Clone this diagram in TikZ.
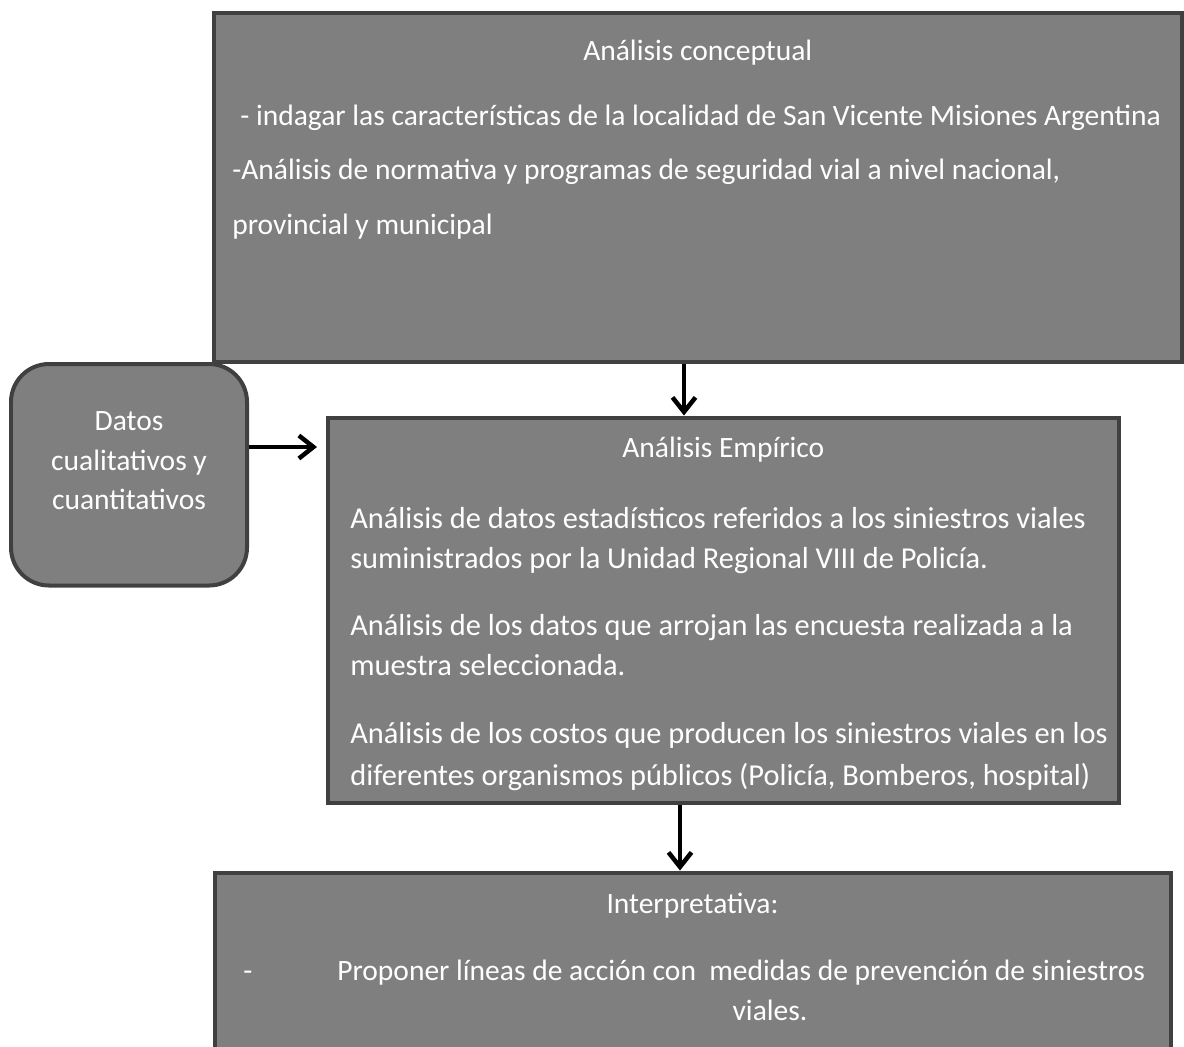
\documentclass[tikz,border=0pt]{standalone}
\usepackage{fontspec}
\setmainfont{Carlito}
\usetikzlibrary{arrows.meta}

\definecolor{relleno}{HTML}{7F7F7F}
\definecolor{borde}{HTML}{404040}

\tikzset{
  caja/.style={draw=borde, fill=relleno, line width=0.08cm, inner sep=0pt},
  texto/.style={text=white, inner sep=0pt, anchor=base west,
    font=\fontsize{16.8pt}{20pt}\selectfont},
  textogrande/.style={texto, font=\fontsize{17.3pt}{21pt}\selectfont},
  titulo/.style={texto, anchor=base},
  flecha/.style={line width=0.9mm, -{Straight Barb[length=2.9mm, width=4.6mm]}}
}

\begin{document}
\begin{tikzpicture}[x=0.02cm, y=-0.02cm]
    \useasboundingbox (0,0) rectangle (1184,1046);
    \clip (0,0) rectangle (1184,1046);

    % Cajas
    \node[caja, minimum width=968.5*0.02cm, minimum height=349*0.02cm] (conceptual) at (697.75,187) {};
    \node[caja, rounded corners=0.76cm, minimum width=236*0.02cm, minimum height=221.5*0.02cm] (datos) at (129,474.75) {};
    \node[caja, minimum width=791.5*0.02cm, minimum height=385*0.02cm] (empirico) at (723.25,610) {};
    \node[caja, minimum width=956*0.02cm, minimum height=187.5*0.02cm] (interpretativa) at (692.5,966.25) {};

    % Análisis conceptual
    \node[titulo] (conceptualT) at (697.75,60) {Análisis conceptual};
    \node[texto] (conceptualA) at (240,125) {- indagar las características de la localidad de San Vicente Misiones Argentina};
    \node[texto] (conceptualB) at (232,179) {-Análisis de normativa y programas de seguridad vial a nivel nacional,};
    \node[texto] (conceptualC) at (232,234) {provincial y municipal};

    % Datos
    \node[titulo] (datosA) at (129,430) {Datos};
    \node[titulo] (datosB) at (129,470) {cualitativos y};
    \node[titulo] (datosC) at (129,509) {cuantitativos};

    % Análisis Empírico
    \node[titulo] (empiricoT) at (723.25,457) {Análisis Empírico};
    \node[textogrande] (empiricoA) at (350,528) {Análisis de datos estadísticos referidos a los siniestros viales};
    \node[textogrande] (empiricoB) at (350,568) {suministrados por la Unidad Regional VIII de Policía.};
    \node[textogrande] (empiricoC) at (350,635) {Análisis de los datos que arrojan las encuesta realizada a la};
    \node[textogrande] (empiricoD) at (350,675) {muestra seleccionada.};
    \node[textogrande] (empiricoE) at (350,743) {Análisis de los costos que producen los siniestros viales en los};
    \node[textogrande] (empiricoF) at (350,785) {diferentes organismos públicos (Policía, Bomberos, hospital)};

    % Interpretativa
    \node[titulo] (interpretativaT) at (692.5,913) {Interpretativa:};
    \node[texto] (guion) at (243,980) {-};
    \node[texto] (interpretativaA) at (337,980) {Proponer líneas de acción con\ \ medidas de prevención de siniestros};
    \node[titulo] (interpretativaB) at (770,1020) {viales.};

    % Flechas
    \coordinate (ejeA) at (684,0);
    \coordinate (ejeB) at (680,0);
    \coordinate (puntaA) at (317,447);
    \draw[flecha] (conceptual.south -| ejeA) -- (empirico.north -| ejeA);
    \draw[flecha] (datos.east |- puntaA) -- (puntaA);
    \draw[flecha] (empirico.south -| ejeB) -- (interpretativa.north -| ejeB);
\end{tikzpicture}
\end{document}
